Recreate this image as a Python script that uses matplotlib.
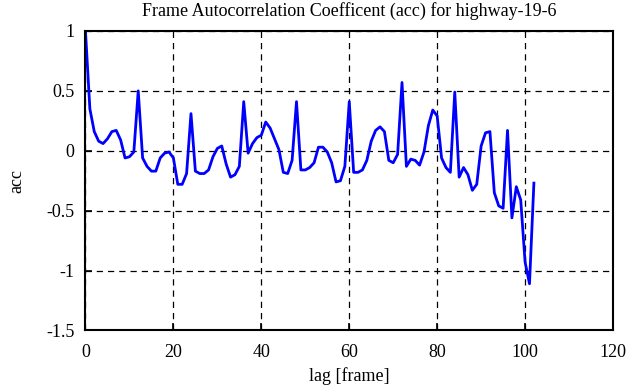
import numpy as np
import matplotlib
matplotlib.use("Agg")
import matplotlib.pyplot as plt

# autocorrelation values, lag 0..102
lags = list(range(0, 103))
acc = [1.00, 0.35, 0.16, 0.08, 0.06, 0.10, 0.16, 0.17, 0.09, -0.06,
       -0.05, -0.01, 0.50, -0.06, -0.13, -0.17, -0.17, -0.06, -0.02, -0.01,
       -0.06, -0.28, -0.28, -0.19, 0.31, -0.17, -0.19, -0.19, -0.16, -0.05,
       0.02, 0.04, -0.11, -0.22, -0.20, -0.13, 0.41, -0.02, 0.06, 0.11,
       0.13, 0.24, 0.19, 0.10, 0.01, -0.18, -0.19, -0.08, 0.41, -0.16,
       -0.16, -0.14, -0.10, 0.03, 0.03, -0.01, -0.10, -0.26, -0.25, -0.13,
       0.41, -0.18, -0.18, -0.16, -0.08, 0.08, 0.17, 0.20, 0.16, -0.08,
       -0.10, -0.03, 0.57, -0.13, -0.07, -0.08, -0.12, -0.01, 0.21, 0.34,
       0.29, -0.06, -0.14, -0.18, 0.49, -0.22, -0.14, -0.20, -0.33, -0.28,
       0.04, 0.15, 0.16, -0.35, -0.46, -0.48, 0.17, -0.56, -0.30, -0.41,
       -0.93, -1.11, -0.27]

xticks = [0, 20, 40, 60, 80, 100, 120]
yticks = [1, 0.5, 0, -0.5, -1, -1.5]
ytick_labels = ["1", "0.5", "0", "-0.5", "-1", "-1.5"]

plt.rcParams['font.family'] = ['Liberation Serif', 'DejaVu Serif']

fig = plt.figure(figsize=(6.35, 3.87), dpi=100)
ax = fig.add_axes([0.1346, 0.146, 0.8308, 0.774])

ax.plot(lags, acc, color='#0000ff', linewidth=2.0)

ax.set_xlim(0, 120)
ax.set_ylim(-1.5, 1)
ax.set_xticks(xticks)
ax.set_yticks(yticks)
ax.set_yticklabels(ytick_labels)
ax.tick_params(direction='in', length=5, width=1.2, labelsize=13,
               top=False, right=False)
ax.tick_params(axis='x', pad=10)
ax.tick_params(axis='y', pad=8)
ax.grid(True, color='black', linestyle=(0, (5, 4)), linewidth=0.9)
for s in ax.spines.values():
    s.set_linewidth(1.5)

ax.set_title("Frame Autocorrelation Coefficent (acc) for highway-19-6",
             fontsize=13, pad=11)
ax.set_xlabel("lag [frame]", fontsize=13, labelpad=4)
ax.set_ylabel("acc", fontsize=13, labelpad=15)

fig.savefig("out.png", dpi=100)
